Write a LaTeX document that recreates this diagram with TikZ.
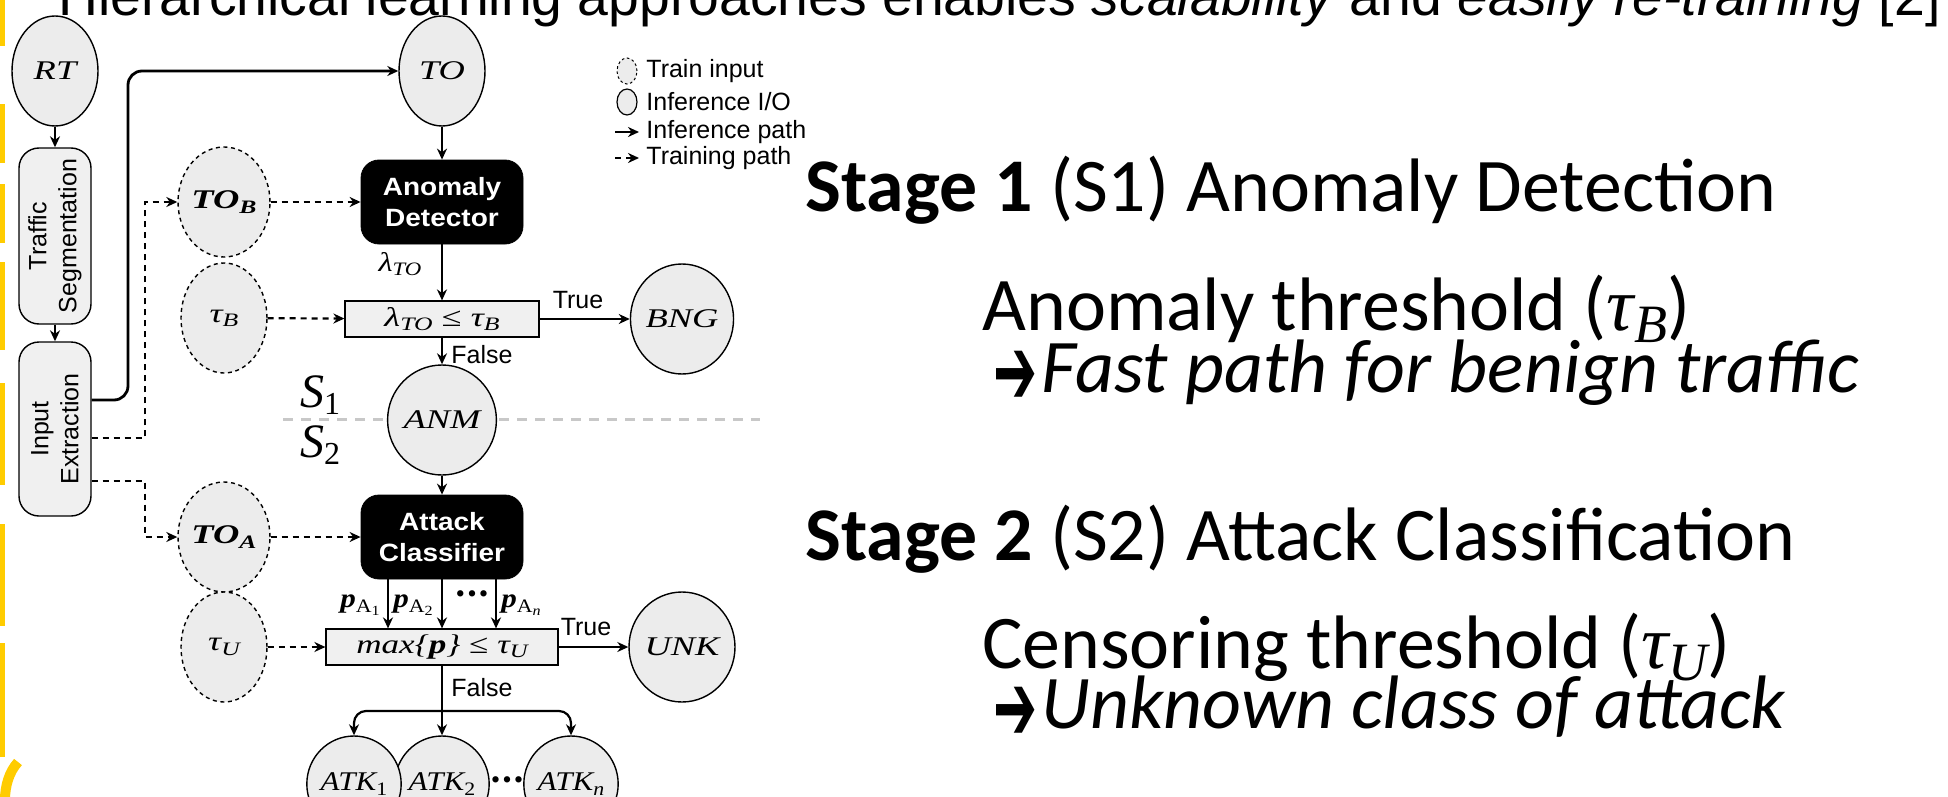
\documentclass[tikz,border=0pt]{standalone}
\usepackage{fontspec}
\usepackage{graphicx}
\setmainfont{Carlito}
\newfontfamily\tms{Liberation Serif}
\newfontfamily\hv{Liberation Sans}
\newfontfamily\dvs{DejaVu Sans}
\usetikzlibrary{arrows.meta,shapes.geometric,calc}
\definecolor{yel}{RGB}{255,204,0}
\definecolor{nodefill}{RGB}{236,236,236}
\definecolor{boxfill}{RGB}{240,240,240}
\definecolor{sepgray}{RGB}{200,200,200}
\newcommand{\hx}[2][1.35]{\scalebox{#1}[1]{#2}}
\newcommand{\sbx}[2]{\raisebox{-0.35ex}{\fontsize{#1}{#1}\selectfont #2}}
\newcommand{\lf}{\tms\itshape\fontsize{13.5}{13.5}\selectfont}
\newcommand{\bigarr}{\rlap{\hspace{-3.5pt}\raisebox{-6pt}{\scalebox{1.25}[2.3]{\dvs\fontsize{21}{21}\selectfont ➔}}}\hspace{20.5pt}}
\begin{document}
\begin{tikzpicture}[x=0.5pt,y=-0.5pt,
  io/.style={ellipse, draw=black, line width=0.7pt, fill=nodefill, minimum width=43pt, minimum height=55pt, inner sep=0pt, font=\lf},
  tin/.style={io, dash pattern=on 2pt off 1.8pt},
  blk/.style={draw=black, fill=black, rounded corners=9pt, text=white, align=center, minimum width=81pt, minimum height=42pt, inner sep=0pt, font=\hv\bfseries\fontsize{12.5}{15.5}\selectfont},
  cnd/.style={draw=black, line width=0.6pt, fill=boxfill, inner sep=0pt, minimum height=18pt, font=\lf},
  vbx/.style={draw=black, line width=0.7pt, fill=boxfill, rounded corners=10pt, rotate=90, minimum height=36pt, inner sep=0pt, align=center, font=\hv\fontsize{12.5}{15}\selectfont},
  ln/.style={line width=1.1pt},
  arr/.style={ln, -{Stealth[length=5.5pt,width=5pt]}},
  darr/.style={arr, dash pattern=on 3pt off 2.5pt},
  lab/.style={font=\hv\fontsize{12.5}{12.5}\selectfont, inner sep=0pt},
  big/.style={font=\fontsize{37.9}{37.9}\selectfont, inner sep=0pt, anchor=base west}]
\useasboundingbox (0,0) rectangle (1948,797);
\clip (0,0) rectangle (1948,797);
\fill[white] (0,0) rectangle (1948,797);

% slide decorations
\foreach \a/\b in {0/46,104/163,184/243,262/350,383/485,524/626,643/757}
  \fill[yel] (0,\a) rectangle (5,\b);
\draw[yel, line width=5pt] (18,762) .. controls (9,772) and (5,786) .. (5,800);

% title (clipped)
\node[anchor=base west, inner sep=0pt] (ttl) at (58,16) {\resizebox{941pt}{!}{\hv\fontsize{24}{24}\selectfont Hierarchical learning approaches enables \textit{scalability} and \textit{easily re-training} [2]}};

% left column
\node[io] (rt) at (55,71) {\hx{RT}};
\node[vbx, minimum width=88pt] (ts) at (55,236) {Traffic\\Segmentation};
\node[vbx, minimum width=87pt] (ie) at (55,429) {Input\\Extraction};
\draw[arr] (rt) -- (ts);
\draw[arr] (ts) -- (ie);

% main column
\node[io] (to) at (442,71) {\hx{TO}};
\node[tin] (tob) at (224,202) {\bfseries\hx{TO\sbx{9.5}{B}}};
\node[tin] (taub) at (224,318) {\hx{τ\sbx{9.5}{B}}};
\node[tin] (toa) at (224,537) {\bfseries\hx{TO\sbx{9.5}{A}}};
\node[tin] (tauu) at (224,647) {\hx{τ\sbx{9.5}{U}}};

\coordinate (k1) at (128,71);
\coordinate (k2) at (145,202);
\coordinate (k3) at (145,537);
\draw[arr, line width=1.4pt, rounded corners=7pt] ($(ie.south)+(0,-29)$) -| (k1) -- (to);
\draw[darr] ($(ie.south)+(0,9)$) -| (k2) -- (tob);
\draw[darr] ($(ie.south)+(0,52)$) -| (k3) -- (toa);

\node[blk] (ad) at (442,202) {\hx[1.12]{Anomaly}\\\hx[1.12]{Detector}};
\draw[arr] (to) -- (ad);
\draw[darr] (tob) -- (ad);

\node[cnd, minimum width=97pt] (c1) at (442,319) {\hx{λ\sbx{9.5}{TO} {\upshape ≤} τ\sbx{9.5}{B}}};
\draw[arr] (ad) -- (c1);
\node[font=\lf, inner sep=0pt] (lto) at (400,264) {\hx[1.2]{λ\sbx{9.5}{TO}}};
\draw[darr] (taub) -- (c1);

\node[io] (bng) at (682,319) {\hx{BNG}};
\draw[arr, line width=1.4pt] (c1) -- (bng);
\node[lab] (t1) at (578,300) {True};

\draw[sepgray, line width=1.5pt, dash pattern=on 5pt off 4pt] (283,419) -- (760,419);
\node[io] (anm) at (442,420) {\hx{ANM}};
\draw[arr] (c1) -- (anm);
\node[lab] (f1) at (482,355) {False};
\node[font=\tms\itshape\fontsize{24}{24}\selectfont, inner sep=0pt] (s1) at (320,395) {S\sbx{16}{\upshape 1}};
\node[font=\tms\itshape\fontsize{24}{24}\selectfont, inner sep=0pt] (s2) at (320,445) {S\sbx{16}{\upshape 2}};

\node[blk] (ac) at (442,537) {\hx[1.12]{Attack}\\\hx[1.12]{Classifier}};
\draw[arr] (anm) -- (ac);
\draw[darr] (toa) -- (ac);

\node[cnd, minimum width=116pt] (c2) at (442,647) {\hx[1.3]{max\{{\bfseries p}\} {\upshape ≤} τ\sbx{9.5}{U}}};
\foreach \dx in {-54,0,54}
  \draw[arr] ($(ac.south)+(\dx,0)$) -- ($(c2.north)+(\dx,0)$);
\node[font=\lf, inner sep=0pt] (pa1) at (360,605) {\hx[1.15]{{\bfseries p}\sbx{9.5}{\upshape A\sbx{7}{1}}}};
\node[font=\lf, inner sep=0pt] (pa2) at (413,605) {\hx[1.15]{{\bfseries p}\sbx{9.5}{\upshape A\sbx{7}{2}}}};
\node[font=\dvs\bfseries\fontsize{9}{9}\selectfont, inner sep=0pt] (pd) at (472,596) {•••};
\node[font=\lf, inner sep=0pt] (pan) at (521,605) {\hx[1.15]{{\bfseries p}\sbx{9.5}{\upshape A\sbx{7}{\itshape n}}}};
\draw[darr] (tauu) -- (c2);

\node[io] (unk) at (682,647) {\hx{UNK}};
\draw[arr, line width=1.4pt] (c2) -- (unk);
\node[lab] (t2) at (586,627) {True};

\coordinate (br) at (442,711);
\draw[ln] (c2) -- (br);
\node[lab] (f2) at (482,688) {False};
\node[io, minimum height=48pt, minimum width=44pt] (atk2) at (442,784) {\hx[1.15]{ATK\sbx{9.5}{\upshape 2}}};
\node[io, minimum height=48pt, minimum width=44pt] (atk1) at (354,784) {\hx[1.15]{ATK\sbx{9.5}{\upshape 1}}};
\node[io, minimum height=48pt, minimum width=44pt] (atkn) at (571,784) {\hx[1.15]{ATK\sbx{9.5}{n}}};
\node[font=\dvs\bfseries\fontsize{9}{9}\selectfont, inner sep=0pt] (ad2) at (507,782) {•••};
\draw[arr, rounded corners=6pt] (br) -| (atk1);
\draw[arr] (br) -- (atk2);
\draw[arr, rounded corners=6pt] (br) -| (atkn);

% legend
\node[tin, minimum width=10pt, minimum height=13pt, line width=0.5pt, dash pattern=on 1.3pt off 1.3pt] (lg1) at (627,71) {};
\node[io, minimum width=10pt, minimum height=13pt, line width=0.6pt] (lg2) at (627,102) {};
\node[lab, anchor=west] (lt1) at (646,71) {Train input};
\node[lab, anchor=west] (lt2) at (646,102) {Inference I/O};
\node[lab, anchor=west] (lt3) at (646,132) {Inference path};
\node[lab, anchor=west] (lt4) at (646,158) {Training path};
\coordinate (la1) at (615,132);
\coordinate (lb1) at (615,158);
\draw[arr] (la1) -- ($(lt3.west)+(-7,0)$);
\draw[darr] (lb1) -- ($(lt4.west)+(-7,0)$);

% right text
\node[big] (l1) at (805,211) {\textbf{Stage 1} (S1) Anomaly Detection};
\node[big] (l2) at (982,330) {Anomaly threshold ({\tms\itshape τ\sbx{27}{B}})};
\node[big] (l3) at (1000,392) {\bigarr\textit{Fast path for benign traffic}};
\node[big] (l4) at (805,560) {\textbf{Stage 2} (S2) Attack Classification};
\node[big] (l5) at (982,668) {Censoring threshold ({\tms\itshape τ\sbx{27}{U}})};
\node[big] (l6) at (1000,728) {\bigarr\textit{Unknown class of attack}};
\end{tikzpicture}
\end{document}
